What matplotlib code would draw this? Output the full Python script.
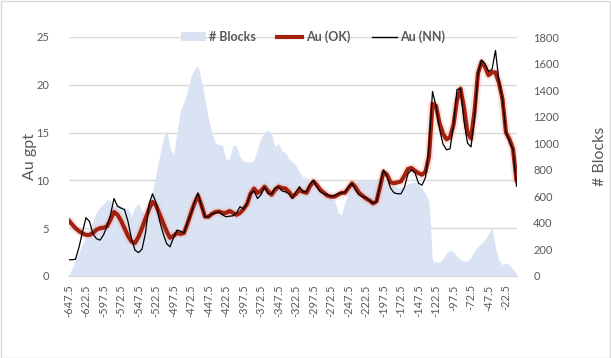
import numpy as np
import matplotlib
matplotlib.use("Agg")
import matplotlib.pyplot as plt
import matplotlib.patheffects as pe
from matplotlib.patches import Rectangle
from matplotlib.lines import Line2D

plt.rcParams['font.family'] = ['Lato', 'DejaVu Sans']

# Elevation categories (every 5 m)
elev = np.arange(-647.5, -5.0, 5.0)

blocks = [0, 60, 120, 180, 240, 300, 360, 420, 480, 520,
          540, 575, 570, 520, 545, 530, 515, 510, 450, 520,
          545, 490, 450, 520, 640, 770, 900, 1030, 1100, 970,
          910, 1080, 1250, 1310, 1400, 1500, 1560, 1580, 1470, 1330,
          1180, 1080, 1000, 990, 985, 880, 880, 985, 980, 900,
          865, 858, 858, 870, 960, 1040, 1085, 1100, 1070, 975,
          1000, 940, 930, 880, 860, 830, 780, 745, 740, 725,
          720, 700, 660, 640, 610, 590, 570, 480, 460, 560,
          620, 700, 710, 720, 723, 725, 725, 720, 720, 725,
          720, 700, 690, 675, 670, 665, 680, 695, 705, 708,
          690, 660, 620, 560, 115, 105, 105, 130, 175, 196,
          180, 150, 125, 110, 112, 140, 190, 225, 245, 275,
          320, 370, 210, 115, 85, 100, 80, 50, 15]

au_ok = [5.85, 5.4, 5.0, 4.7, 4.45, 4.3, 4.3, 4.5, 4.85, 5.0,
         5.05, 5.2, 5.9, 6.7, 6.4, 5.8, 5.0, 4.2, 3.6, 3.45,
         4.1, 5.0, 6.0, 7.0, 7.75, 7.4, 6.5, 5.6, 4.7, 4.0,
         4.2, 4.5, 4.4, 4.5, 5.5, 6.6, 7.6, 8.4, 7.4, 6.2,
         6.2, 6.5, 6.7, 6.75, 6.6, 6.6, 6.8, 6.6, 6.4, 6.6,
         7.0, 7.5, 8.6, 9.15, 8.7, 8.9, 9.35, 8.9, 8.5, 9.0,
         9.35, 9.2, 9.15, 8.8, 8.3, 8.6, 9.0, 8.8, 8.7, 9.4,
         9.9, 9.5, 9.0, 8.7, 8.4, 8.3, 8.3, 8.5, 8.7, 8.7,
         9.2, 9.7, 9.3, 8.7, 8.4, 8.1, 7.9, 7.6, 7.8, 9.3,
         10.9, 10.6, 9.8, 9.7, 9.8, 9.9, 10.5, 11.2, 11.3, 11.0,
         10.75, 10.6, 10.9, 12.5, 18.0, 17.8, 16.0, 14.9, 14.3, 14.5,
         15.8, 18.4, 19.6, 17.6, 15.0, 14.4, 17.2, 21.2, 22.4, 21.9,
         21.0, 21.3, 21.3, 20.2, 18.5, 15.0, 14.3, 13.3, 10.0]

au_nn = [1.7, 1.7, 1.75, 3.0, 4.6, 6.1, 5.7, 4.4, 3.9, 3.75,
         4.3, 5.2, 6.4, 8.1, 7.3, 7.1, 6.95, 5.7, 3.9, 2.7,
         2.45, 2.8, 4.5, 7.5, 8.6, 7.7, 5.8, 4.5, 3.4, 3.05,
         4.0, 4.8, 4.7, 4.5, 5.6, 6.5, 7.8, 8.7, 7.3, 6.2,
         6.2, 6.5, 6.6, 6.7, 6.4, 6.2, 6.25, 6.3, 6.6, 7.25,
         7.0, 7.6, 8.6, 8.9, 8.1, 8.5, 9.3, 8.6, 8.6, 9.2,
         9.3, 8.9, 8.8, 8.6, 8.1, 8.8, 9.35, 8.8, 8.8, 9.6,
         10.0, 9.3, 8.8, 8.6, 8.5, 8.3, 8.4, 8.6, 8.7, 8.8,
         9.3, 9.7, 9.0, 8.5, 8.3, 8.2, 7.9, 7.6, 7.8, 9.5,
         11.1, 10.4, 9.2, 8.7, 8.6, 8.6, 9.3, 10.7, 11.1, 10.8,
         9.7, 9.5, 10.3, 13.5, 19.3, 17.8, 15.4, 13.8, 13.2, 13.3,
         15.8, 19.5, 19.6, 16.2, 13.9, 13.5, 16.5, 21.2, 22.6, 22.2,
         21.4, 21.6, 23.6, 20.3, 18.5, 15.0, 14.1, 13.2, 9.4]

xtick_vals = np.arange(-647.5, -20.0, 25.0)
xtick_labels = [f"{v:g}" for v in xtick_vals]
au_ticks = [0, 5, 10, 15, 20, 25]
block_ticks = [0, 200, 400, 600, 800, 1000, 1200, 1400, 1600, 1800]

TXT = '#595959'
GRID = '#D9D9D9'
AREA = '#DAE3F3'
RED = '#A3200F'

W, H = 611, 358
fig = plt.figure(figsize=(W / 100, H / 100), dpi=100)
fig.patch.set_facecolor('white')
fig.patches.append(Rectangle((0.5 / W, 0.5 / H), 1 - 1.5 / W, 1 - 1.5 / H,
                             transform=fig.transFigure, fill=False,
                             edgecolor=GRID, linewidth=1.0))

x0, x1, ytop, ybot = 68.5, 516.5, 37, 276
ax = fig.add_axes([x0 / W, (H - ybot) / H, (x1 - x0) / W, (ybot - ytop) / H])
ax2 = ax.twinx()
ax3 = ax.twinx()

# primary (Au) axis: gridlines + left ticks
ax.set_ylim(0, 25)
ax.set_yticks(au_ticks)
ax.yaxis.grid(True, color=GRID, linewidth=1.0)
ax.set_axisbelow(True)
ax.tick_params(axis='y', length=0, labelsize=8, labelcolor=TXT, pad=14)
ax.set_ylabel('Au gpt', fontsize=11.5, color=TXT, labelpad=-1)

# blocks area on secondary axis
ax2.fill_between(elev, 0, blocks, color=AREA, linewidth=0, label='# Blocks')
ax2.set_ylim(0, 1800)
ax2.set_yticks(block_ticks)
ax2.tick_params(axis='y', length=0, labelsize=8, labelcolor=TXT, pad=12)
ax2.set_ylabel('# Blocks', fontsize=11.5, color=TXT, labelpad=24)

# Au lines
ax3.set_ylim(0, 25)
ax3.set_yticks([])
l_ok, = ax3.plot(elev, au_ok, color=RED, linewidth=3.0, solid_capstyle='round',
                 solid_joinstyle='round', label='Au (OK)',
                 path_effects=[pe.Stroke(linewidth=6, foreground='#F2AFA6', alpha=0.35),
                               pe.Normal()])
l_nn, = ax3.plot(elev, au_nn, color='black', linewidth=0.9,
                 solid_joinstyle='round', label='Au (NN)')

for a in (ax, ax2, ax3):
    for s in ('top', 'left', 'right'):
        a.spines[s].set_visible(False)
    a.spines['bottom'].set_color(GRID)
    a.set_xlim(elev[0], elev[-1])

ax.set_xticks(xtick_vals)
ax.set_xticklabels(xtick_labels, rotation=90)
ax.tick_params(axis='x', length=0, labelsize=8, labelcolor=TXT, pad=6)
ax2.tick_params(axis='x', length=0)
ax3.tick_params(axis='x', length=0)

h_ok = Line2D([], [], color=RED, linewidth=3.0)
h_nn = Line2D([], [], color='black', linewidth=1.0)
handles = [ax2.collections[0], h_ok, h_nn]
leg = fig.legend(handles, ['# Blocks', 'Au (OK)', 'Au (NN)'],
                 loc='center', bbox_to_anchor=(313 / W, 1 - 37 / H),
                 ncol=3, frameon=False, fontsize=9, handlelength=2.0,
                 columnspacing=1.7, handletextpad=0.3)
for t in leg.get_texts():
    t.set_color(TXT)
    t.set_fontweight('bold')

fig.savefig('out.png', dpi=100, facecolor='white')
